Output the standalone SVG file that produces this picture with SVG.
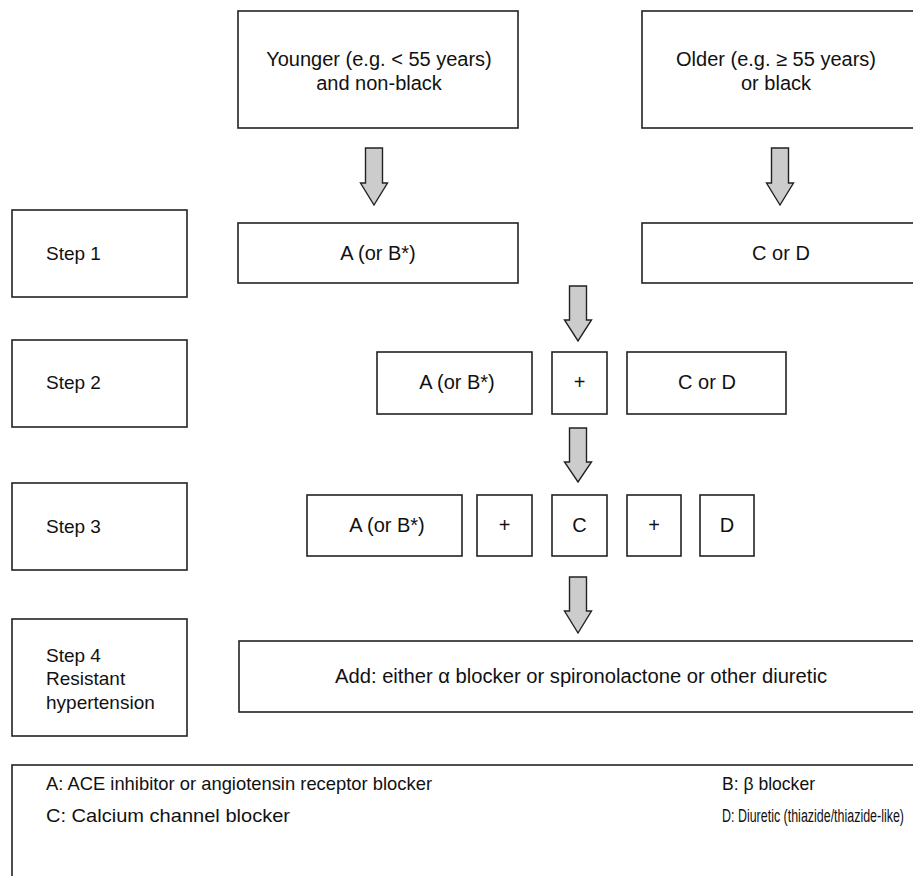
<svg xmlns="http://www.w3.org/2000/svg" width="913" height="876" viewBox="0 0 913 876">
<style>
.box{fill:#fff;stroke:#222;stroke-width:1.6}
.arr{fill:#cccccc;stroke:#222;stroke-width:1.4;stroke-linejoin:miter}
text{font-family:"Liberation Sans",Arial,sans-serif;font-size:20px;fill:#111}
.c{text-anchor:middle}
.s{font-size:19px}
</style>
<rect width="913" height="876" fill="#fff"/>
<g id="connectors">
<polygon class="arr" points="365.5,148 382.5,148 382.5,183 387.5,183 374,205 360.5,183 365.5,183"/>
<polygon class="arr" points="771.5,148 788.5,148 788.5,183 793.5,183 780,205 766.5,183 771.5,183"/>
<polygon class="arr" points="569.5,286 586.5,286 586.5,320 591.5,320 578,341 564.5,320 569.5,320"/>
<polygon class="arr" points="569.5,428 586.5,428 586.5,462 591.5,462 578,482 564.5,462 569.5,462"/>
<polygon class="arr" points="569.5,577 586.5,577 586.5,611 591.5,611 578,633 564.5,611 569.5,611"/>
</g>
<g id="younger"><rect class="box" x="238" y="11" width="280" height="117"/><text class="c" x="379" y="66">Younger (e.g. &lt; 55 years)</text><text class="c" x="379" y="90">and non-black</text></g>
<g id="older"><rect class="box" x="642" y="11" width="290" height="117"/><text class="c" x="776" y="66">Older (e.g. ≥ 55 years)</text><text class="c" x="776" y="90">or black</text></g>
<g id="step1"><rect class="box" x="12" y="210" width="175" height="87"/><text class="s" x="46" y="260">Step 1</text></g>
<g id="s1a"><rect class="box" x="238" y="223" width="280" height="60"/><text class="c" x="378" y="260">A (or B*)</text></g>
<g id="s1c"><rect class="box" x="642" y="223" width="290" height="60"/><text class="c" x="781" y="260">C or D</text></g>
<g id="step2"><rect class="box" x="12" y="340" width="175" height="87"/><text class="s" x="46" y="389">Step 2</text></g>
<g id="s2a"><rect class="box" x="377" y="352" width="155" height="62"/><text class="c" x="457" y="389">A (or B*)</text></g>
<g id="s2p"><rect class="box" x="552" y="352" width="55" height="62"/><text class="c" x="579.5" y="389">+</text></g>
<g id="s2c"><rect class="box" x="627" y="352" width="159" height="62"/><text class="c" x="707" y="389">C or D</text></g>
<g id="step3"><rect class="box" x="12" y="483" width="175" height="87"/><text class="s" x="46" y="533">Step 3</text></g>
<g id="s3a"><rect class="box" x="307" y="495" width="155" height="61"/><text class="c" x="387" y="532">A (or B*)</text></g>
<g id="s3p1"><rect class="box" x="477" y="495" width="55" height="61"/><text class="c" x="504.5" y="532">+</text></g>
<g id="s3c"><rect class="box" x="552" y="495" width="55" height="61"/><text class="c" x="579.5" y="532">C</text></g>
<g id="s3p2"><rect class="box" x="627" y="495" width="54" height="61"/><text class="c" x="654" y="532">+</text></g>
<g id="s3d"><rect class="box" x="700" y="495" width="54" height="61"/><text class="c" x="727" y="532">D</text></g>
<g id="step4"><rect class="box" x="12" y="619" width="175" height="117"/><text class="s" x="46" y="662">Step 4</text><text class="s" x="46" y="685">Resistant</text><text class="s" x="46" y="709">hypertension</text></g>
<g id="s4add"><rect class="box" x="239" y="641" width="693" height="71"/><text x="335" y="683" textLength="492" lengthAdjust="spacingAndGlyphs">Add: either α blocker or spironolactone or other diuretic</text></g>
<g id="legend"><rect class="box" x="12" y="765" width="930" height="140"/>
<text class="s" x="46" y="790" textLength="386" lengthAdjust="spacingAndGlyphs">A: ACE inhibitor or angiotensin receptor blocker</text>
<text class="s" x="722" y="790" textLength="93" lengthAdjust="spacingAndGlyphs">B: β blocker</text>
<text class="s" x="46" y="822" textLength="244" lengthAdjust="spacingAndGlyphs">C: Calcium channel blocker</text>
<text x="722" y="822" style="font-size:18px" textLength="182" lengthAdjust="spacingAndGlyphs">D: Diuretic (thiazide/thiazide-like)</text>
</g>
</svg>
